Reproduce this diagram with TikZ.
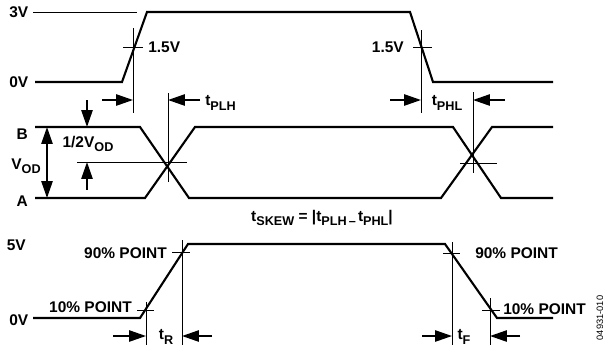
\documentclass[tikz,border=0pt]{standalone}
\usepackage{fontspec}
\setmainfont{Liberation Sans}
\usetikzlibrary{arrows.meta}
\newcommand{\sbj}[1]{\raisebox{-0.28em}{\fontsize{9}{10}\selectfont #1}}

\begin{document}
\begin{tikzpicture}[x=0.025cm, y=-0.025cm,
        senal/.style={line width=1.5pt},
        guia/.style={line width=0.7pt},
        cota/.style={line width=1.2pt, -{Triangle[length=0.42cm, width=0.28cm]}},
        dcota/.style={line width=1.2pt, {Triangle[length=0.42cm, width=0.28cm]}-{Triangle[length=0.42cm, width=0.28cm]}},
        etq/.style={font=\fontsize{11}{13}\selectfont\bfseries, inner sep=0pt}]
        \useasboundingbox (0,0) rectangle (603,351);

        % Entrada 0V - 3V
        \node[etq, anchor=east] (tres) at (28.5,12) {3V};
        \node[etq, anchor=east] (cero) at (28.5,82) {0V};
        \draw[guia] (33,12.5) -- (137,12.5);
        \draw[senal] (35,82) -- (122,82) -- (147,12) -- (410,12) -- (433,82) -- (553,82);

        % Puntos de 1.5V
        \coordinate (sA) at (133,28);  \coordinate (sB) at (133,113);
        \coordinate (bA) at (421,30);  \coordinate (bB) at (421,113);
        \draw[guia] (sA) -- (sB);
        \draw[guia] (bA) -- (bB);
        \draw[guia] (123,47) -- (143,47);
        \draw[guia] (413,47) -- (432,47);
        \node[etq, anchor=west] (ms) at (148,47) {1.5V};
        \node[etq, anchor=east] (mb) at (404,47) {1.5V};

        % Salida diferencial A / B
        \node[etq, anchor=east] (B) at (28,134) {B};
        \node[etq, anchor=east] (A) at (28,201) {A};
        \node[etq] (vod) at (26,166) {V\sbj{OD}};
        \node[etq] (mvod) at (88,144) {1/2V\sbj{OD}};
        \draw[senal] (35,127) -- (140,127) -- (189,198) -- (441,198) -- (492,127) -- (553,127);
        \draw[senal] (35,198) -- (145,198) -- (195,127) -- (453,127) -- (501,198) -- (553,198);
        \draw[guia] (77,162) -- (187,162);
        \draw[guia] (460,163) -- (497,163);
        \coordinate (pA) at (168,93);  \coordinate (pB) at (168,182);
        \coordinate (qA) at (473,92);  \coordinate (qB) at (473,173);
        \draw[guia] (pA) -- (pB);
        \draw[guia] (qA) -- (qB);

        % Cotas de retardo
        \draw[dcota] (47,127) -- (47,198);
        \draw[cota] (87,100) -- (87,127);
        \draw[cota] (87,190) -- (87,162);
        \draw[cota] (102,100) -- (sA |- 0,100);
        \draw[cota] (200,100) -- (pA |- 0,100);
        \node[etq, anchor=west] (tplh) at (205,103) {t\sbj{PLH}};
        \draw[cota] (390,100) -- (bA |- 0,100);
        \draw[cota] (505,100) -- (qA |- 0,100);
        \node[etq] (tphl) at (447,103) {t\sbj{PHL}};
        \node[etq] (skew) at (322,218) {t\sbj{SKEW} = |t\sbj{PLH\,\textendash\,}t\sbj{PHL}|};

        % Salida 0V - 5V, subida y bajada
        \node[etq, anchor=east] (cinco) at (26,245) {5V};
        \node[etq, anchor=east] (cerob) at (28.5,320) {0V};
        \draw[senal] (33,318) -- (140,318) -- (188,244) -- (445,244) -- (497,318) -- (553,318);
        \coordinate (rA) at (146,302);  \coordinate (rB) at (182,240);
        \coordinate (fA) at (452,242);  \coordinate (fB) at (490,298);
        \draw[guia] (rA) -- (rA |- 0,345);
        \draw[guia] (rB) -- (rB |- 0,345);
        \draw[guia] (fA) -- (fA |- 0,345);
        \draw[guia] (fB) -- (fB |- 0,345);
        \draw[guia] (137,310) -- (154,310);
        \draw[guia] (172,252) -- (190,252);
        \draw[guia] (443,253) -- (460,253);
        \draw[guia] (482,310) -- (500,310);
        \node[etq, anchor=east] (n90a) at (167,253) {90\% POINT};
        \node[etq, anchor=east] (n10a) at (132,307) {10\% POINT};
        \node[etq, anchor=west] (n90b) at (475,253) {90\% POINT};
        \node[etq, anchor=west] (n10b) at (503,309) {10\% POINT};
        \draw[cota] (113,336) -- (rA |- 0,336);
        \draw[cota] (212,336) -- (rB |- 0,336);
        \node[etq] (tr) at (166,337) {t\sbj{R}};
        \draw[cota] (422,336) -- (fA |- 0,336);
        \draw[cota] (520,336) -- (fB |- 0,336);
        \node[etq] (tf) at (464,337) {t\sbj{F}};

        % Referencia
        \node[font=\fontsize{6.6}{7}\selectfont, rotate=90, inner sep=0pt] (ref) at (600,318) {04931-010};

    \end{tikzpicture}
\end{document}
